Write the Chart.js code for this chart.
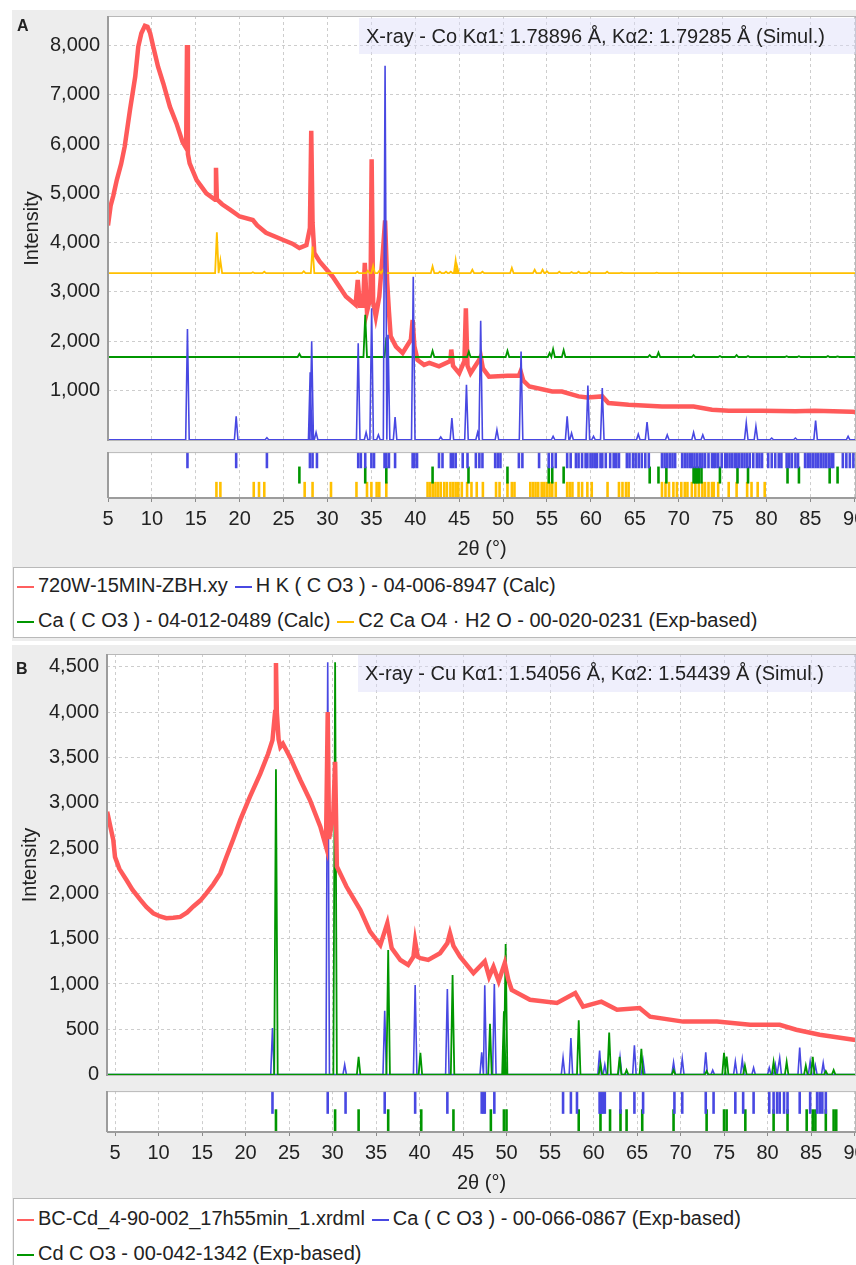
<!DOCTYPE html>
<html>
<head>
<meta charset="utf-8">
<script src="https://cdn.jsdelivr.net/npm/chart.js@4.4.1/dist/chart.umd.min.js"></script>
<style>
html, body { margin:0; padding:0; background:#fff; overflow:hidden; width:856px; height:1265px; }
body { position:relative; font-family:'Liberation Sans', Arial, sans-serif; color:#222; }
.panel { position:absolute; left:12px; width:844px; background:#ededed; overflow:hidden; }
.panel canvas { position:absolute; left:0; }
.letter { position:absolute; font-weight:bold; font-size:16px; line-height:16px; z-index:3; }
.note { position:absolute; right:0; height:36px; line-height:36px; font-size:20px; padding-left:7px; background:rgba(220,220,248,0.45); z-index:2; white-space:nowrap; }
.legend { position:absolute; left:1px; width:850px; background:#fff; border:1px solid #b9b9b9; font-size:20px; z-index:2; }
.legend .row { position:absolute; left:3px; height:24px; line-height:24px; white-space:nowrap; }
.legend .sw { display:inline-block; width:17px; height:2px; vertical-align:middle; margin-right:4px; }
.legend .item { margin-right:7px; }
</style>
</head>
<body>

<div class="panel" style="top:10px;height:631px">
  <canvas id="mainA" width="870" height="473" style="top:-18px"></canvas>
  <canvas id="tickA" width="870" height="124" style="top:431px"></canvas>
  <div class="letter" style="left:5px;top:8px">A</div>
  <div class="note" style="left:347px;top:8px">X-ray - Co Kα1: 1.78896 Å, Kα2: 1.79285 Å (Simul.)</div>
  <div class="legend" style="top:557px;height:69px">
    <div class="row" style="top:5px"><span class="sw" style="background:rgb(255,95,95)"></span><span class="item">720W-15MIN-ZBH.xy</span><span class="sw" style="background:rgb(72,72,226)"></span><span class="item">H K ( C O3 ) - 04-006-8947 (Calc)</span></div>
    <div class="row" style="top:40px"><span class="sw" style="background:rgb(0,150,0)"></span><span class="item">Ca ( C O3 ) - 04-012-0489 (Calc)</span><span class="sw" style="background:rgb(255,192,0)"></span><span class="item">C2 Ca O4 · H2 O - 00-020-0231 (Exp-based)</span></div>
  </div>
</div>

<div class="panel" style="top:645px;height:620px">
  <canvas id="mainB" width="870" height="470" style="top:-15px"></canvas>
  <canvas id="tickB" width="870" height="123" style="top:431px"></canvas>
  <div class="letter" style="left:4px;top:16px">B</div>
  <div class="note" style="left:346px;top:10px;height:37px;line-height:37px">X-ray - Cu Kα1: 1.54056 Å, Kα2: 1.54439 Å (Simul.)</div>
  <div class="legend" style="top:553px;height:100px">
    <div class="row" style="top:7px"><span class="sw" style="background:rgb(255,95,95)"></span><span class="item">BC-Cd_4-90-002_17h55min_1.xrdml</span><span class="sw" style="background:rgb(72,72,226)"></span><span class="item">Ca ( C O3 ) - 00-066-0867 (Exp-based)</span></div>
    <div class="row" style="top:42px"><span class="sw" style="background:rgb(0,150,0)"></span><span class="item">Cd C O3 - 00-042-1342 (Exp-based)</span></div>
  </div>
</div>

<script>
// tick labels
const xTicks = [5, 10, 15, 20, 25, 30, 35, 40, 45, 50, 55, 60, 65, 70, 75, 80, 85, 90];
const yTicksA = [1000, 2000, 3000, 4000, 5000, 6000, 7000, 8000];
const yTicksB = [0, 500, 1000, 1500, 2000, 2500, 3000, 3500, 4000, 4500];

// panel A - measured pattern (2theta, counts)
const redA2t = [5.0,5.3,5.6,6.0,6.5,6.9,7.5,8.1,8.45,8.8,9.2,9.5,9.8,10.15,10.7,11.3,12.05,12.8,13.5,13.9,
  14.0,14.1,14.3,15.1,16.2,17.2,17.3,17.4,18.0,18.9,20.0,21.5,22.0,23.0,24.9,26.0,26.8,27.6,28.0,28.15,
  28.3,28.5,29.1,30.6,32.1,33.2,33.45,33.7,34.05,34.25,34.5,34.9,35.03,35.2,35.5,35.9,36.3,36.56,36.8,37.0,
  37.2,37.8,38.56,39.5,39.7,39.9,40.26,41.0,41.6,42.7,44.0,44.1,44.3,45.0,45.6,45.76,45.95,46.3,47.27,47.46,
  47.7,48.4,50.5,51.8,52.0,52.3,53.0,55.6,56.7,58.6,59.6,61.3,62.0,64.3,68.1,71.7,73.8,75.7,79.5,83.3,
  85.5,89.7,90.2];
const redACounts = [4350,4750,4950,5270,5600,5950,6690,7370,7980,8250,8400,8380,8250,7980,7570,7230,6760,6420,6040,5920,
  8010,5800,5610,5270,5000,4870,5520,4880,4780,4670,4530,4460,4350,4200,4060,3980,3890,3950,4300,6270,
  4400,3790,3620,3310,2910,2740,3245,2720,2720,3590,2600,2900,5690,2800,2500,2910,3790,4450,3200,2600,
  2100,1890,1760,2030,2430,1900,1620,1520,1560,1490,1600,1830,1500,1350,1600,2670,1500,1350,1620,1690,
  1450,1280,1300,1300,1390,1200,1080,980,980,880,860,880,745,710,675,675,610,591,590,580,
  590,570,565];

// panel A - reference patterns (peak position, peak height above baseline)
const blueAPos = [14.05,19.6,23.1,28.03,28.2,28.7,33.5,34.4,35.03,35.8,36.56,36.9,37.7,39.77,42.9,44.17,45.83,47.1,47.45,49.3,
  52.05,55.7,57.3,57.8,59.66,60.3,61.3,65.4,66.4,68.7,71.7,72.75,77.7,78.8,80.6,83.3,85.6,89.3];
const blueAHt = [2250,475,40,1370,2000,150,1960,150,2670,100,7590,2130,460,3310,55,440,1115,150,2415,200,
  1790,70,475,135,1100,70,1050,115,360,100,150,100,340,270,35,35,390,70];
const greenABase = 1680;
const greenAPos = [26.8,34.3,36.7,41.97,46.1,50.5,55.3,55.7,56.9,66.7,67.7,71.7,74.7,76.6,77.9,82.3,83.7,87.0,88.1];
const greenAHt = [65,855,400,125,110,125,80,160,140,40,90,40,20,40,20,15,15,20,10];
const yellowABase = 3380;
const yellowAPos = [17.4,17.8,21.5,22.8,27.3,28.3,33.4,34.6,35.2,35.9,36.3,41.97,42.8,43.5,44.05,44.6,44.75,46.5,47.65,51.0,
  53.6,54.5,55.0,56.4,57.8,58.6,59.8,61.85,63.5,67.5,70.0];
const yellowAHt = [830,260,20,30,40,540,30,50,150,50,60,140,30,30,30,260,150,70,30,110,
  70,70,40,30,25,30,30,30,10,10,10];

// panel A - reflection markers
const blueATicks = [14.05,19.6,23.1,28.0,28.3,28.8,33.5,33.8,34.3,35.0,35.3,36.5,36.7,37.0,37.7,39.7,39.9,40.2,
  42.7,43.1,44.05,44.3,44.6,45.4,45.95,46.9,47.3,47.65,49.1,49.4,49.7,51.8,52.2,54.1,55.2,55.6,56.0,57.3,57.7,
  58.3,58.6,59.0,59.4,59.6,59.96,60.2,60.5,60.7,61.1,61.3,61.7,62.2,62.6,62.9,63.2,64.1,64.4,64.8,65.1,65.45,65.8,
  66.2,66.6,68.1,68.4,68.7,69.0,69.3,69.6,70.4,70.7,71.0,71.3,71.5,71.8,72.1,72.4,72.7,73.0,73.4,73.8,
  74.0,74.2,74.5,74.9,75.3,75.5,75.8,76.1,76.4,76.6,76.9,77.2,77.5,77.8,78.1,78.5,78.9,79.2,79.5,
  80.2,80.6,81.0,81.4,81.7,82.3,82.6,82.9,83.3,83.6,84.4,84.7,85.0,85.3,85.6,85.9,86.2,86.5,86.8,87.1,87.4,87.6,
  88.7,89.1,89.5,89.9];
const greenATicks = [26.8,34.3,36.7,41.97,46.06,50.5,55.2,55.6,56.9,66.7,67.7,68.6,71.7,71.9,72.1,72.3,72.6,74.7,76.7,77.9,82.4,83.7,87.2,88.1];
const yellowATicks = [17.35,17.8,21.6,22.2,22.8,27.4,28.3,30.4,33.3,34.5,35.0,35.6,35.9,36.7,41.4,41.7,42.0,42.3,42.6,42.9,
  43.3,43.6,44.0,44.3,44.6,44.9,45.3,45.9,46.4,47.0,47.7,49.2,49.6,50.5,51.0,51.3,53.1,53.4,53.7,54.0,54.4,54.7,
  55.0,55.3,55.6,56.0,57.3,57.6,57.9,58.6,59.0,59.6,60.1,61.9,63.2,63.6,64.0,64.3,68.1,68.5,68.9,69.4,69.8,70.3,
  70.7,71.0,71.5,71.9,72.3,72.7,73.0,73.4,73.8,74.0,74.5,75.7,76.6,77.8,78.3,79.0,79.8];

// panel B - measured pattern
const redB2t = [4.1,4.5,4.8,5.0,5.5,6.3,7.0,7.9,8.6,9.4,10.2,10.9,11.7,12.5,13.3,14.0,14.8,15.5,16.3,17.1,
  17.8,18.6,19.4,20.5,21.7,22.6,23.1,23.4,23.5,23.6,23.8,24.0,24.3,25.1,26.3,27.4,28.6,29.25,29.45,29.6,
  29.8,30.1,30.3,30.5,31.6,33.2,34.3,35.5,36.0,36.3,36.8,37.8,38.7,39.3,39.5,39.8,40.1,41.0,42.36,43.2,
  43.5,43.9,44.66,46.2,47.5,48.0,48.5,49.1,49.8,50.2,50.6,52.7,55.8,57.9,58.8,60.9,62.7,65.3,66.5,70.3,
  74.2,78.0,81.4,83.3,86.0,89.9,90.3];
const redBCounts = [2900,2720,2590,2400,2270,2150,2040,1930,1850,1780,1745,1725,1730,1740,1790,1855,1920,2000,2100,2220,
  2400,2600,2810,3065,3320,3540,3690,4000,4540,4000,3700,3615,3650,3505,3250,3030,2735,2515,4000,2600,
  2700,2900,3450,2295,2075,1815,1580,1430,1580,1670,1395,1265,1210,1300,1470,1300,1285,1265,1340,1450,
  1560,1420,1300,1120,1250,1080,1190,1030,1230,1050,935,825,790,900,750,805,715,735,640,585,
  585,550,550,495,440,385,380];

// panel B - reference patterns
const blueBPos = [23.1,29.45,31.4,36.0,39.5,43.2,47.15,47.5,48.6,56.5,57.4,60.7,61.3,63.05,64.7,65.7,69.2,70.2,72.9,73.7,
  76.3,77.1,78.4,80.2,80.9,81.4,83.7,84.9,85.5,86.4];
const blueBHt = [515,4550,110,705,990,945,245,985,1000,185,405,265,110,190,325,150,135,175,245,50,
  145,165,75,75,110,185,300,145,100,130];
const greenBPos = [23.5,30.3,33.0,36.4,40.1,43.8,48.1,49.7,49.9,58.3,60.8,61.8,63.0,63.8,65.5,69.2,73.0,75.0,75.3,77.4,
  80.7,82.2,84.4,85.2,86.7,87.6];
const greenBHt = [3370,4550,195,1375,240,1100,560,700,1440,600,120,465,195,50,285,50,40,240,200,100,
  140,140,100,195,40,50];

// panel B - reflection markers
const blueBTicks = [23.1,29.45,31.5,36.0,39.5,43.2,47.15,47.35,47.5,48.6,56.5,57.4,58.1,60.7,60.9,61.1,61.3,63.1,64.7,65.7,
  69.3,70.2,72.9,73.8,76.3,77.2,78.4,80.2,80.7,81.1,81.4,81.9,82.3,83.7,84.9,85.7,86.0,86.3,86.7];
const greenBTicks = [23.5,30.3,33.0,36.4,40.2,43.9,48.2,49.7,50.0,58.3,60.8,61.9,63.1,63.8,65.6,69.2,73.0,75.0,75.3,77.45,
  80.7,82.3,84.5,85.2,85.5,86.7,87.6,87.9];

const RED = 'rgb(255,90,90)';
const BLUE = 'rgb(72,72,226)';
const GREEN = 'rgb(0,150,0)';
const YELLOW = 'rgb(255,192,0)';
const PEAK_W = 0.2;

Chart.defaults.font.family = "'Liberation Sans', Arial, sans-serif";
Chart.defaults.font.size = 20;
Chart.defaults.color = '#222';

function fmt(v) {
    return String(v).replace(/\B(?=(\d{3})+(?!\d))/g, ',');
}

function pairs(xs, ys) {
    return xs.map((x, i) => ({x: x, y: ys[i]}));
}

function peaks(pos, hts, base, lo, hi) {
    const pts = [{x: lo, y: base}];
    pos.forEach((p, i) => {
        pts.push({x: p - PEAK_W, y: base}, {x: p, y: base + hts[i]}, {x: p + PEAK_W, y: base});
    });
    pts.push({x: hi, y: base});
    return pts;
}

function sticks(pos, row) {
    return pos.map(x => ({x: x, y: row}));
}

const fixTicks = vals => scale => { scale.ticks = vals.map(v => ({value: v})); };

const plotFrame = {
    id: 'plotFrame',
    beforeDraw(chart) {
        const {ctx, chartArea: a} = chart;
        ctx.save();
        ctx.fillStyle = '#fff';
        ctx.fillRect(a.left, a.top, a.right - a.left, a.bottom - a.top);
        ctx.restore();
    },
    afterDraw(chart, args, opts) {
        const {ctx, chartArea: a} = chart;
        ctx.save();
        ctx.strokeStyle = '#b8b8b8';
        ctx.lineWidth = 1;
        ctx.strokeRect(a.left + 0.5, a.top + 0.5, a.right - a.left - 1, a.bottom - a.top - 1);
        ctx.strokeStyle = '#9c9c9c';
        ctx.lineWidth = 2;
        ctx.beginPath();
        ctx.moveTo(a.left, a.top);
        ctx.lineTo(a.left, a.bottom);
        if (opts.bottom) {
            ctx.moveTo(a.left, a.bottom);
            ctx.lineTo(a.right, a.bottom);
        }
        ctx.stroke();
        ctx.restore();
    }
};

function lineSet(data, color, width) {
    return {data: data, borderColor: color, borderWidth: width, pointRadius: 0, tension: 0, fill: false};
}

function mainChart(id, cfg) {
    return new Chart(document.getElementById(id), {
        type: 'line',
        data: {datasets: cfg.datasets},
        options: {
            responsive: false,
            animation: false,
            events: [],
            layout: {padding: {left: 0, right: 26, top: 24, bottom: 24}},
            plugins: {legend: {display: false}, tooltip: {enabled: false}, plotFrame: {bottom: false}},
            scales: {
                x: {
                    type: 'linear', min: cfg.xmin, max: cfg.xmax, bounds: 'data',
                    afterBuildTicks: fixTicks(xTicks),
                    ticks: {display: false},
                    grid: {color: '#cdcdcd', drawTicks: false},
                    border: {display: false, dash: [3, 3]}
                },
                y: {
                    min: cfg.ymin, max: cfg.ymax, bounds: 'data',
                    afterBuildTicks: fixTicks(cfg.yTicks),
                    afterFit: s => { s.width = cfg.axisW; },
                    ticks: {padding: 8, callback: v => fmt(v)},
                    grid: {color: '#cdcdcd', drawTicks: false},
                    border: {display: false, dash: [3, 3]},
                    title: {display: true, text: 'Intensity', padding: {top: cfg.titlePad, bottom: 0}}
                }
            }
        },
        plugins: [plotFrame]
    });
}

function tickChart(id, cfg) {
    const datasets = cfg.rows.map(r => ({
        data: sticks(r.pos, r.row),
        pointStyle: 'line',
        pointRotation: 90,
        pointRadius: cfg.half,
        pointHoverRadius: cfg.half,
        pointBorderColor: r.color,
        pointBackgroundColor: r.color,
        pointBorderWidth: 2.6
    }));
    return new Chart(document.getElementById(id), {
        type: 'scatter',
        data: {datasets: datasets},
        options: {
            responsive: false,
            animation: false,
            events: [],
            layout: {padding: {left: 0, right: 26, top: 6, bottom: 0}},
            plugins: {legend: {display: false}, tooltip: {enabled: false}, plotFrame: {bottom: true}},
            scales: {
                x: {
                    type: 'linear', min: cfg.xmin, max: cfg.xmax, bounds: 'data',
                    afterBuildTicks: fixTicks(xTicks),
                    afterFit: s => { s.height = 67; },
                    ticks: {padding: 5, maxRotation: 0, autoSkip: false},
                    grid: {color: '#cdcdcd', tickColor: '#8a8a8a', tickLength: 4, tickBorderDash: []},
                    border: {display: false, dash: [3, 3]},
                    title: {display: true, text: '2θ (°)', padding: {top: 6, bottom: 4}}
                },
                y: {
                    min: 0, max: cfg.rows.length, bounds: 'data',
                    afterFit: s => { s.width = cfg.axisW; },
                    ticks: {display: false},
                    grid: {display: false},
                    border: {display: false}
                }
            }
        },
        plugins: [plotFrame]
    });
}

mainChart('mainA', {
    xmin: 5, xmax: 90.2, ymin: -25, ymax: 8600, yTicks: yTicksA, axisW: 96, titlePad: 8,
    datasets: [
        lineSet(peaks(blueAPos, blueAHt, 0, 5, 90.2), BLUE, 1.6),
        lineSet(peaks(greenAPos, greenAHt, greenABase, 5, 90.2), GREEN, 1.8),
        lineSet(peaks(yellowAPos, yellowAHt, yellowABase, 5, 90.2), YELLOW, 1.8),
        lineSet(pairs(redA2t, redACounts), RED, 4.5)
    ]
});

tickChart('tickA', {
    xmin: 5, xmax: 90.2, axisW: 96, half: 8.5,
    rows: [
        {pos: blueATicks, row: 2.5, color: BLUE},
        {pos: greenATicks, row: 1.5, color: GREEN},
        {pos: yellowATicks, row: 0.5, color: YELLOW}
    ]
});

mainChart('mainB', {
    xmin: 4.08, xmax: 90.17, ymin: -15, ymax: 4640, yTicks: yTicksB, axisW: 95, titlePad: 6,
    datasets: [
        lineSet(pairs(redB2t, redBCounts), RED, 4.5),
        lineSet(peaks(greenBPos, greenBHt, 0, 4.08, 90.17), GREEN, 1.8),
        lineSet(peaks(blueBPos, blueBHt, 0, 4.08, 90.17), BLUE, 1.6)
    ]
});

tickChart('tickB', {
    xmin: 4.08, xmax: 90.17, axisW: 95, half: 12.5,
    rows: [
        {pos: blueBTicks, row: 1.5, color: BLUE},
        {pos: greenBTicks, row: 0.5, color: GREEN}
    ]
});
</script>
</body>
</html>
